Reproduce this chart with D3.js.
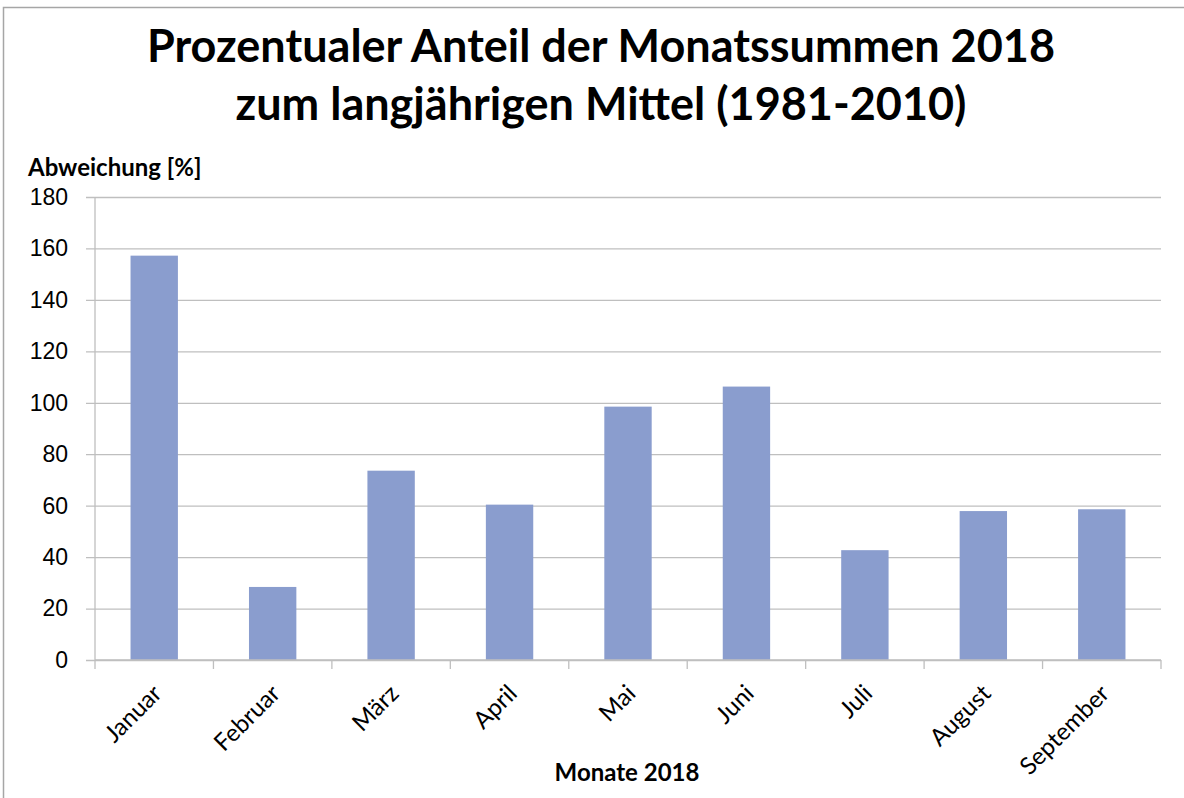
<!DOCTYPE html>
<html lang="de">
<head>
<meta charset="UTF-8">
<title>Prozentualer Anteil der Monatssummen 2018</title>
<script src="https://cdn.jsdelivr.net/npm/d3@7"></script>
<style>
  body { margin: 0; background: #fff; }
  svg { font-family: Lato, "Open Sans", sans-serif; }
</style>
</head>
<body>
<div id="chart"></div>
<script>
  const months = ["Januar", "Februar", "März", "April", "Mai", "Juni", "Juli", "August", "September"];
  const values = [157.2, 28.4, 73.6, 60.4, 98.5, 106.3, 42.7, 57.9, 58.6];
  const yTicks = [0, 20, 40, 60, 80, 100, 120, 140, 160, 180];
  const titleLines = ["Prozentualer Anteil der Monatssummen 2018", "zum langjährigen Mittel (1981-2010)"];

  const W = 1184, H = 798;
  const margin = {top: 197, right: 23, bottom: 138, left: 95};
  const width = W - margin.left - margin.right,
        height = H - margin.top - margin.bottom;

  const svg = d3.select("#chart").append("svg")
      .attr("width", W).attr("height", H);

  // outer frame
  svg.append("rect")
      .attr("x", 3.5).attr("y", 7.5)
      .attr("width", W).attr("height", H)
      .attr("fill", "none").attr("stroke", "#a6a6a6").attr("stroke-width", 1.5);

  // title
  svg.selectAll(".title")
    .data(titleLines)
    .enter().append("text")
      .attr("x", 601)
      .attr("y", (d, i) => 62 + i * 58)
      .attr("text-anchor", "middle")
      .style("font-size", "45px")
      .style("font-weight", "bold")
      .text(d => d);

  const g = svg.append("g")
      .attr("transform", "translate(" + margin.left + "," + margin.top + ")");

  const x = d3.scaleBand()
      .domain(months)
      .range([0, width])
      .paddingInner(0.6)
      .paddingOuter(0.3);

  const y = d3.scaleLinear()
      .domain([0, 180])
      .range([height, 0]);

  // gridlines + y axis
  const yAxis = g.append("g")
      .call(d3.axisLeft(y).tickValues(yTicks).tickSize(-width).tickPadding(27));
  yAxis.select(".domain").remove();
  yAxis.selectAll(".tick line")
      .attr("x1", -9)
      .attr("stroke", "#bfbfbf").attr("stroke-width", 1.3);
  yAxis.selectAll(".tick text")
      .attr("x", -27)
      .style("font-size", "23px").attr("fill", "#000");

  g.append("line")
      .attr("x1", 0).attr("x2", 0).attr("y1", 0).attr("y2", height)
      .attr("stroke", "#bfbfbf").attr("stroke-width", 1.3);

  // bars
  g.selectAll(".bar")
    .data(months)
    .enter().append("rect")
      .attr("class", "bar")
      .attr("x", (d) => x(d))
      .attr("y", (d, i) => y(values[i]))
      .attr("width", x.bandwidth())
      .attr("height", (d, i) => height - y(values[i]))
      .attr("fill", "#8a9dce");

  // x axis with ticks on the category boundaries
  const bounds = d3.range(months.length + 1).map(i => i * width / months.length);
  const xAxis = g.append("g").attr("transform", "translate(0," + height + ")");
  xAxis.append("line")
      .attr("x1", 0).attr("x2", width)
      .attr("stroke", "#bfbfbf").attr("stroke-width", 1.3);
  xAxis.selectAll(".xtick")
    .data(bounds)
    .enter().append("line")
      .attr("x1", d => d).attr("x2", d => d)
      .attr("y1", 0).attr("y2", 9)
      .attr("stroke", "#bfbfbf").attr("stroke-width", 1.3);

  xAxis.selectAll(".xlabel")
    .data(months)
    .enter().append("text")
      .attr("transform", d => "translate(" + (x(d) + x.bandwidth() / 2 + 9) + ",35) rotate(-45)")
      .attr("text-anchor", "end")
      .style("font-size", "24px")
      .text(d => d);

  // axis titles
  svg.append("text")
      .attr("x", 28).attr("y", 176)
      .style("font-size", "24px").style("font-weight", "bold")
      .text("Abweichung [%]");

  svg.append("text")
      .attr("x", 627).attr("y", 781)
      .attr("text-anchor", "middle")
      .style("font-size", "24px").style("font-weight", "bold")
      .text("Monate 2018");
</script>
</body>
</html>
